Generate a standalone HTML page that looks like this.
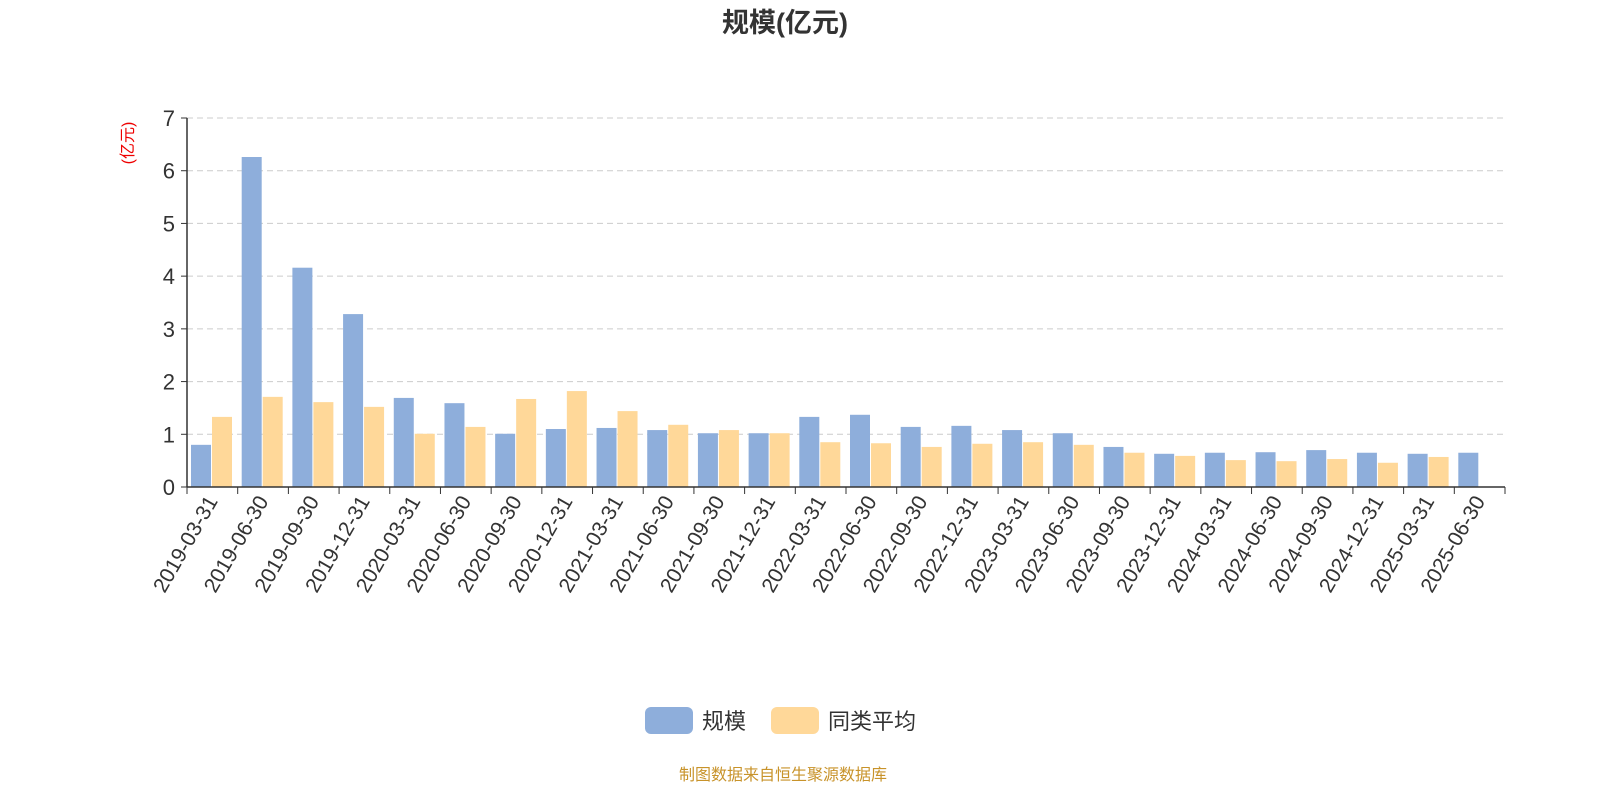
<!DOCTYPE html>
<html><head><meta charset="utf-8"><style>
body{margin:0;background:#fff;font-family:"Liberation Sans","Noto Sans CJK SC",sans-serif;}
</style></head><body>
<svg id="c" width="1600" height="800" xmlns="http://www.w3.org/2000/svg" style="font-family:'Liberation Sans','Noto Sans CJK SC',sans-serif">
<text x="785" y="32" text-anchor="middle" font-size="27" font-weight="bold" fill="#333">规模(亿元)</text>
<text transform="translate(133,143) rotate(-90)" text-anchor="middle" font-size="16" fill="#e00">(亿元)</text>
<g id="grid"></g><g id="bars"></g><g id="axes"></g>
<g>
<rect x="645" y="707" width="48" height="27" rx="6" fill="#8eaedb"/>
<text x="702" y="729" font-size="22" fill="#333">规模</text>
<rect x="771" y="707" width="48" height="27" rx="6" fill="#ffd899"/>
<text x="828" y="729" font-size="22" fill="#333">同类平均</text>
</g>
<text x="783" y="780" text-anchor="middle" font-size="16" fill="#c8932a">制图数据来自恒生聚源数据库</text>
</svg>
<script>
const categories=["2019-03-31","2019-06-30","2019-09-30","2019-12-31","2020-03-31","2020-06-30","2020-09-30","2020-12-31","2021-03-31","2021-06-30","2021-09-30","2021-12-31","2022-03-31","2022-06-30","2022-09-30","2022-12-31","2023-03-31","2023-06-30","2023-09-30","2023-12-31","2024-03-31","2024-06-30","2024-09-30","2024-12-31","2025-03-31","2025-06-30"];
const scaleValues=[0.80,6.26,4.16,3.28,1.69,1.59,1.01,1.10,1.12,1.08,1.02,1.02,1.33,1.37,1.14,1.16,1.08,1.02,0.76,0.63,0.65,0.66,0.70,0.65,0.63,0.65];
const avgValues=[1.33,1.71,1.61,1.52,1.01,1.14,1.67,1.82,1.44,1.18,1.08,1.02,0.85,0.83,0.76,0.82,0.85,0.80,0.65,0.59,0.51,0.49,0.53,0.46,0.57,null];
const yTicks=[0,1,2,3,4,5,6,7];
const NS="http://www.w3.org/2000/svg";
const x0=187,x1=1505,y0=487,y1=118,yMax=7;
const band=(x1-x0)/categories.length;
const y=v=>y0-(v/yMax)*(y0-y1);
const xb=i=>x0+i*band;
function mk(t,a,p){const e=document.createElementNS(NS,t);for(const k in a)e.setAttribute(k,a[k]);p.appendChild(e);return e;}
const grid=document.getElementById('grid'),bars=document.getElementById('bars'),axes=document.getElementById('axes');
yTicks.forEach(t=>{
 if(t>0){const g=mk('line',{x1:x0,x2:x1,y1:y(t),y2:y(t),stroke:'#ccc','stroke-dasharray':'6,4'},grid);
 
 }
 const tk=mk('line',{x1:x0-6,x2:x0,y1:y(t),y2:y(t),stroke:'#333'},axes);
 
 
 const tx=mk('text',{x:x0-12,y:y(t)+8,'text-anchor':'end','font-size':22,fill:'#333'},axes);tx.textContent=t;
 
 
});
const bw=20;
categories.forEach((c,i)=>{
 const bx=xb(i)+4;
 if(scaleValues[i]!=null){const r=mk('rect',{x:bx,y:y(scaleValues[i]),width:bw,height:y0-y(scaleValues[i]),fill:'#8eaedb'},bars);
 
 }
 if(avgValues[i]!=null){const r=mk('rect',{x:bx+bw+1,y:y(avgValues[i]),width:bw,height:y0-y(avgValues[i]),fill:'#ffd899'},bars);
 
 }
 const cx=xb(i)+band/2;
 const tx=mk('text',{transform:`translate(${cx+6},${y0+14}) rotate(-60)`,'text-anchor':'end','font-size':21,fill:'#333'},axes);tx.textContent=c;
 
 
});
for(let i=0;i<=categories.length;i++){const t=mk('line',{x1:xb(i),x2:xb(i),y1:y0,y2:y0+7,stroke:'#333'},axes);
 
 }
const xa=mk('line',{x1:x0,x2:x1,y1:y0,y2:y0,stroke:'#333','stroke-width':1.5},axes);


const ya=mk('line',{x1:x0,x2:x0,y1:y1,y2:y0,stroke:'#333','stroke-width':1.5},axes);


</script>
</body></html>
